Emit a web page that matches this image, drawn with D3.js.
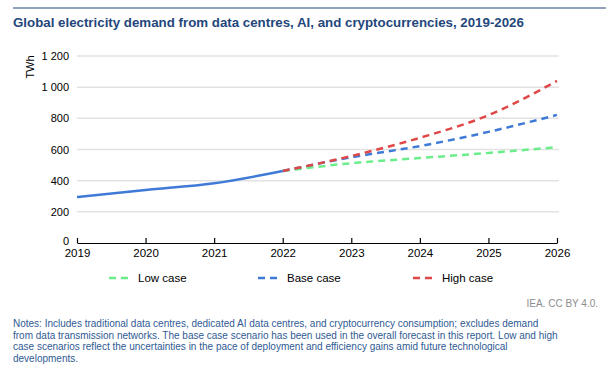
<!DOCTYPE html>
<html>
<head>
<meta charset="utf-8">
<script src="https://cdn.jsdelivr.net/npm/d3@7"></script>
<style>
  body { margin: 0; background: #fff; font-family: "Liberation Sans", Arial, sans-serif; }
</style>
</head>
<body>
<script>
// data
var years = [2019, 2020, 2021, 2022, 2023, 2024, 2025, 2026];
var historic = [295, 340, 383, 462];
var lowCase = [462, 512, 545, 578, 615];
var baseCase = [462, 550, 622, 713, 822];
var highCase = [462, 558, 675, 820, 1040];
var yTicks = [0, 200, 400, 600, 800, 1000, 1200];
var seriesNames = ["Low case", "Base case", "High case"];
var seriesColors = ["#6ced8c", "#3f7bd6", "#e04848"];

var width = 608, height = 367;
var svg = d3.select("body").append("svg").attr("width", width).attr("height", height);

// top rule + title
svg.append("line").attr("x1", 13).attr("x2", 606).attr("y1", 8).attr("y2", 8)
   .attr("stroke", "#24477b").attr("stroke-width", 1.2);
svg.append("text").attr("x", 13).attr("y", 27)
   .attr("font-size", 13.3).attr("font-weight", "bold").attr("fill", "#24477b")
   .text("Global electricity demand from data centres, AI, and cryptocurrencies, 2019-2026");

var x = d3.scaleLinear().domain([2019, 2026]).range([77, 557]);
var y = d3.scaleLinear().domain([0, 1200]).range([243, 56]);

var fmt = function(d){ return d3.format(",")(d).replace(",", " "); };

// gridlines
svg.append("g").selectAll("line").data(yTicks.filter(function(d){ return d > 0; }))
  .enter().append("line")
    .attr("x1", x(2019)).attr("x2", x(2026) + 2)
    .attr("y1", function(d){ return y(d); }).attr("y2", function(d){ return y(d); })
    .attr("stroke", "#e2e2e2").attr("stroke-width", 1.5);

// y labels
svg.append("g").selectAll("text").data(yTicks).enter().append("text")
  .attr("x", 69).attr("y", function(d){ return y(d) + (d === 0 ? 2 : 4); })
  .attr("text-anchor", "end").attr("font-size", 11).attr("fill", "#000")
  .text(fmt);

svg.append("text").attr("transform", "translate(34,67) rotate(-90)")
  .attr("text-anchor", "middle").attr("font-size", 11).text("TWh");

// x axis
var xAxis = d3.axisBottom(x).tickValues(years).tickFormat(d3.format("d")).tickSize(5).tickSizeOuter(0);
var gx = svg.append("g").attr("transform", "translate(0," + y(0) + ")").call(xAxis);
gx.select(".domain").attr("stroke", "#000").attr("stroke-width", 1.2);
gx.selectAll(".tick line").attr("stroke", "#000").attr("stroke-width", 1.2).attr("y1", 0).attr("y2", -5);
gx.selectAll(".tick text").attr("y", 6).attr("font-size", 11.5).attr("font-family", "Liberation Sans, Arial, sans-serif").attr("fill", "#000");

var line = d3.line()
  .x(function(d){ return x(d[0]); })
  .y(function(d){ return y(d[1]); })
  .curve(d3.curveMonotoneX);

var forecastYears = years.slice(3);
var scenarios = [lowCase, baseCase, highCase];

scenarios.forEach(function(vals, i){
  svg.append("path")
    .attr("d", line(forecastYears.map(function(yr, j){ return [yr, vals[j]]; })))
    .attr("fill", "none")
    .attr("stroke", seriesColors[i])
    .attr("stroke-width", 2.5)
    .attr("stroke-dasharray", "7,5");
});

svg.append("path")
  .attr("d", line(years.slice(0, 4).map(function(yr, j){ return [yr, historic[j]]; })))
  .attr("fill", "none").attr("stroke", "#3f7bd6").attr("stroke-width", 2.5);

// legend
var legendX = [109, 258, 413];
seriesNames.forEach(function(name, i){
  var g = svg.append("g").attr("transform", "translate(" + legendX[i] + ",278)");
  g.append("line").attr("x1", 0).attr("x2", 24).attr("y1", 0).attr("y2", 0)
    .attr("stroke", seriesColors[i]).attr("stroke-width", 2.5).attr("stroke-dasharray", "7,5");
  g.append("text").attr("x", 29).attr("y", 4).attr("font-size", 11.5).text(name);
});

// source
svg.append("text").attr("x", 598).attr("y", 307).attr("text-anchor", "end")
  .attr("font-size", 10).attr("fill", "#8c8c8c").text("IEA. CC BY 4.0.");

var notes = [
  "Notes: Includes traditional data centres, dedicated AI data centres, and cryptocurrency consumption; excludes demand",
  "from data transmission networks. The base case scenario has been used in the overall forecast in this report. Low and high",
  "case scenarios reflect the uncertainties in the pace of deployment and efficiency gains amid future technological",
  "developments."
];
svg.append("g").selectAll("text").data(notes).enter().append("text")
  .attr("x", 13).attr("y", function(d, i){ return 327 + i * 11.7; })
  .attr("font-size", 10).attr("fill", "#2f5a93").text(function(d){ return d; });
</script>
</body>
</html>
